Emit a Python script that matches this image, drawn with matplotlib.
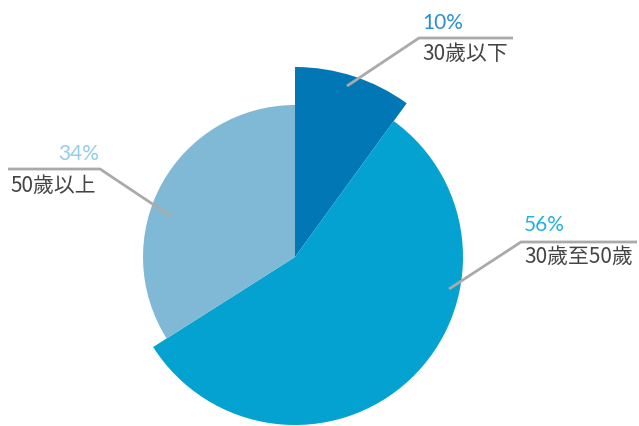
import numpy as np
import matplotlib
matplotlib.use('Agg')
import matplotlib.pyplot as plt

plt.rcParams['font.family'] = ['Noto Sans CJK TC', 'DejaVu Sans']

# data
categories = ['30歲以下', '30歲至50歲', '50歲以上']
values = [10, 56, 34]
pct_labels = ['10%', '56%', '34%']

# styles
slice_colors = ['#0277b6', '#03a2d0', '#80b9d6']
pct_colors = ['#2a8fd2', '#22b2e0', '#94cdea']
radii = [190, 168, 152]
line_color = '#aaaaaa'
text_color = '#444444'

W, H = 639, 426
center = (295, H - 257)

fig = plt.figure(figsize=(W / 100, H / 100), dpi=100)
ax = fig.add_axes([0, 0, 1, 1])

wedges, _ = ax.pie(values, colors=slice_colors, startangle=90, counterclock=False,
                   center=center, radius=1.0, wedgeprops=dict(linewidth=0))
for w, r in zip(wedges, radii):
    w.set_radius(r)

ax.set_xlim(0, W)
ax.set_ylim(0, H)
ax.set_aspect('equal')
ax.axis('off')


def Y(yp):
    return H - yp


# leader lines: (start, elbow, end) in pixel coords
leaders = [
    [(347, 86), (419, 38), (513, 38)],
    [(449, 289), (521, 242), (637, 242)],
    [(172, 217), (100, 169), (8, 169)],
]
for pts in leaders:
    xs = [p[0] for p in pts]
    ys = [Y(p[1]) for p in pts]
    ax.plot(xs, ys, color=line_color, lw=2, solid_capstyle='butt')

pct_font = dict(family=['Lato', 'DejaVu Sans'], weight='normal', fontsize=15)
fs_cat = 15
# 10% / 30歲以下
ax.text(422, Y(23), pct_labels[0], color=pct_colors[0], va='center', ha='left', **pct_font)
ax.text(422, Y(54), categories[0], color=text_color, fontsize=fs_cat, va='center', ha='left')
# 56%
ax.text(524, Y(225), pct_labels[1], color=pct_colors[1], va='center', ha='left', **pct_font)
ax.text(524, Y(257), categories[1], color=text_color, fontsize=fs_cat, va='center', ha='left')
# 34%
ax.text(99, Y(154), pct_labels[2], color=pct_colors[2], va='center', ha='right', **pct_font)
ax.text(10, Y(186), categories[2], color=text_color, fontsize=fs_cat, va='center', ha='left')

fig.savefig('out.png', dpi=100)
